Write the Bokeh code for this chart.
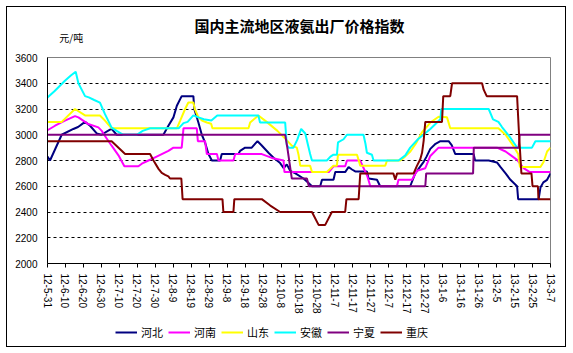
from bokeh.plotting import figure
from bokeh.layouts import column
from bokeh.models import FixedTicker, Range1d, Legend, LegendItem, Label
from bokeh.embed import file_html
from bokeh.resources import INLINE

title_text = "国内主流地区液氨出厂价格指数"
unit_text = "元/吨"

x_tick_days = list(range(0, 281, 10))
x_tick_labels = ["12-5-31", "12-6-10", "12-6-20", "12-6-30", "12-7-10", "12-7-20", "12-7-30",
                 "12-8-9", "12-8-19", "12-8-29", "12-9-8", "12-9-18", "12-9-28", "12-10-8",
                 "12-10-18", "12-10-28", "12-11-7", "12-11-17", "12-11-27", "12-12-7",
                 "12-12-17", "12-12-27", "13-1-6", "13-1-16", "13-1-26", "13-2-5", "13-2-15",
                 "13-2-25", "13-3-7"]
y_ticks = [2000, 2200, 2400, 2600, 2800, 3000, 3200, 3400, 3600]

series_names = ["河北", "河南", "山东", "安徽", "宁夏", "重庆"]
series_colors = ["#000080", "#FF00FF", "#FFFF00", "#00FFFF", "#800080", "#800000"]

# days since 2012-05-31
hebei_days = [0, 1.4, 7.9, 14.4, 17, 20.9, 23.7, 27.4, 30, 34.8, 35.7, 38.5, 64.5, 67.3, 70.1, 72, 74.7,
              81.2, 81.7, 84, 85.9, 87.7, 89.6, 91.5, 96.1, 97, 106.3, 107.2, 110, 113.7, 116.9, 119,
              123, 126, 129.5, 131.5, 133.2, 135.1, 138, 142.5, 145, 147.2, 151.8, 152.8, 159.2, 160.2,
              165.7, 167.6, 169.5, 171.3, 177.8, 178.7, 183.4, 185.2, 201.9, 204.7, 209.4, 211, 213.1,
              216, 218.7, 223.3, 225, 227, 237.2, 238, 245.6, 250.2, 252.1, 255, 257.7, 261.4, 262,
              273.4, 274.4, 276, 278.1, 280]
hebei_vals = [2830, 2800, 3000, 3045, 3060, 3100, 3070, 3010, 3000, 3040, 3045, 3000, 3000, 3070, 3135, 3225, 3300,
              3300, 3200, 3095, 3000, 2940, 2850, 2800, 2800, 2850, 2850, 2875, 2900, 2900, 2950, 2920,
              2860, 2820, 2780, 2740, 2770, 2720, 2700, 2660, 2630, 2600, 2600, 2650, 2650, 2710,
              2710, 2750, 2730, 2715, 2715, 2660, 2650, 2600, 2600, 2700, 2790, 2830, 2890,
              2930, 2950, 2950, 2920, 2850, 2850, 2800, 2800, 2785, 2750, 2700, 2650, 2600, 2500,
              2500, 2590, 2630, 2650, 2700]

henan_days = [0, 4.2, 9.7, 15.3, 17.2, 22.7, 28.3, 30.2, 32, 35.7, 39.5, 42.8, 50.6, 52.5, 56.2, 59.9,
              63.6, 67.3, 70.1, 74.7, 75.7, 83.1, 83.7, 87.7, 88.7, 94.3, 95.2, 103.5, 104.5, 119.3,
              124.9, 131.4, 131.9, 146.2, 156.6, 159.2, 165.7, 166.7, 174, 176, 178, 179.7, 194.5,
              195.4, 202.9, 205.7, 210.3, 213.1, 217.7, 250.2, 255, 261.4, 265, 268.5, 280]
henan_vals = [3035, 3070, 3110, 3145, 3135, 3083, 3057, 3030, 2990, 2915, 2840, 2755, 2755, 2775, 2800, 2825,
              2850, 2875, 2900, 2900, 3050, 3050, 2950, 2950, 2850, 2850, 2800, 2800, 2850, 2850,
              2820, 2800, 2710, 2710, 2710, 2755, 2755, 2800, 2800, 2740, 2680, 2600, 2600,
              2650, 2650, 2720, 2740, 2835, 2900, 2900, 2870, 2805, 2740, 2710, 2710]

shandong_days = [0, 7.9, 15.3, 20.9, 29.2, 32, 35.7, 72, 73.8, 76.6, 78.4, 81.2, 82, 84, 86, 88.7, 91.1,
                 91.8, 111.9, 112.8, 117.4, 122, 128, 133, 136, 138.8, 139.8, 140.7, 146.2, 147.2,
                 155.5, 159.2, 161.1, 161.7, 172.3, 174.1, 188, 189, 196.4, 199, 202, 205, 208.5, 211,
                 213.1, 217.7, 222.4, 224.2, 251, 255, 259, 262, 263, 274.4, 276.2, 278.1, 280]
shandong_vals = [3100, 3100, 3200, 3150, 3150, 3110, 3050, 3050, 3108, 3200, 3250, 3250, 3200, 3135, 3110, 3095, 3085,
                 3050, 3050, 3095, 3150, 3100, 3030, 2960, 2915, 2900, 2840, 2760, 2760, 2710,
                 2710, 2760, 2760, 2845, 2845, 2760, 2760, 2800, 2800, 2830, 2870, 2930, 3020, 3060,
                 3095, 3140, 3135, 3050, 3050, 3000, 2920, 2850, 2750, 2750, 2790, 2870, 2900]

anhui_days = [0, 4, 9.7, 13, 15.7, 17.2, 20.9, 23, 26, 29.2, 32, 35.7, 38.5, 42.2, 49.7, 53, 57.1, 73,
              75.7, 78, 81.2, 84, 87, 91.2, 94.5, 117.4, 118.3, 132.3, 133.2, 134.2, 136.9, 139, 141.2,
              143.5, 145, 146.2, 147.2, 155.5, 157.5, 159.2, 161.1, 161.7, 164.8, 166.7, 175.9, 177,
              177.8, 180.6, 181.5, 195.4, 199.2, 201.9, 206.2, 213.1, 218.7, 219.2, 245.6, 248, 251,
              253, 257, 261.4, 269.7, 271.6, 280]
anhui_vals = [3290, 3340, 3420, 3460, 3490, 3400, 3300, 3290, 3270, 3250, 3160, 3055, 3030, 3000, 3000, 3030, 3050, 3050,
              3090, 3100, 3150, 3135, 3120, 3110, 3150, 3150, 3095, 3095, 2920, 2900, 2900, 2960, 3045,
              3010, 2920, 2850, 2800, 2800, 2830, 2845, 2845, 2940, 2965, 3000, 3000, 2930,
              2860, 2845, 2800, 2800, 2840, 2900, 2965, 3045, 3120, 3200, 3200, 3120, 3100,
              3060, 2990, 2900, 2900, 2950, 2950]

ningxia_days = [0, 132.3, 133.5, 136, 144.4, 145.5, 210.3, 210.8, 236.9, 237.3, 262.3, 262.8, 280]
ningxia_vals = [3000, 3000, 2900, 2660, 2660, 2600, 2600, 2700, 2700, 2900, 2900, 3000, 3000]

chongqing_days = [0, 35.7, 43.2, 57.1, 59, 61.8, 63.6, 65.5, 67.3, 68.2, 74.5, 75.2, 97.4, 97.9, 103.5,
                  104, 119.3, 124, 129.5, 147.2, 150.9, 154.6, 158.3, 165.7, 166.4, 173.2, 174.1,
                  192.5, 193.6, 194.6, 203.8, 205.7, 207.5, 208.5, 209.4, 210.3, 219.6, 220.3, 224.2,
                  225.2, 241.9, 242.8, 244.5, 261.4, 262.5, 263.8, 269.4, 270, 273, 273.3, 280]
chongqing_vals = [2950, 2950, 2850, 2850, 2800, 2735, 2703, 2688, 2677, 2660, 2660, 2500, 2500, 2400, 2400,
                  2500, 2500, 2450, 2400, 2400, 2300, 2300, 2400, 2400, 2500, 2500, 2700,
                  2700, 2650, 2700, 2700, 2760, 2810, 2860, 2955, 3100, 3100, 3300, 3300,
                  3400, 3400, 3350, 3300, 3300, 3000, 2700, 2700, 2600, 2600, 2500, 2500]

series_days = [hebei_days, henan_days, shandong_days, anhui_days, ningxia_days, chongqing_days]
series_vals = [hebei_vals, henan_vals, shandong_vals, anhui_vals, ningxia_vals, chongqing_vals]

CJK = "Noto Sans CJK SC"
NUM = "Liberation Sans"
W = 558  # inner width inside the chart-area border


def blank_panel(h, y0, y1):
    f = figure(width=W, height=h, output_backend="svg", toolbar_location=None,
               x_range=Range1d(0, W), y_range=Range1d(y0, y1),
               x_axis_type=None, y_axis_type=None, min_border=0)
    f.outline_line_color = None
    f.background_fill_color = "white"
    f.border_fill_color = "white"
    return f


# ---- top strip: title and unit
top = blank_panel(40, 40, 0)
top.add_layout(Label(x=279.5, y=18, text=title_text, text_align="center", text_baseline="middle",
                     text_font=CJK, text_font_size="15px", text_font_style="bold", text_color="black"))
top.add_layout(Label(x=13, y=30, text=unit_text, text_align="left", text_baseline="middle",
                     text_font=CJK, text_font_size="10px", text_color="black"))

# ---- main chart
p = figure(width=W, height=273, output_backend="svg", toolbar_location=None,
           x_range=Range1d(0, 280), y_range=Range1d(2000, 3600),
           min_border_left=40, min_border_right=15, min_border_top=10, min_border_bottom=57)
p.background_fill_color = "white"
p.border_fill_color = "white"
p.outline_line_color = "#808080"
p.outline_line_width = 1

p.xaxis.ticker = FixedTicker(ticks=x_tick_days)
p.xaxis.major_label_overrides = {d: lab for d, lab in zip(x_tick_days, x_tick_labels)}
p.xaxis.major_label_orientation = "vertical"
p.xaxis.major_tick_out = 4
p.xaxis.major_tick_in = 0
p.xaxis.minor_tick_line_color = None
p.xaxis.major_label_standoff = 6
p.xaxis.axis_line_color = "black"
p.xaxis.major_tick_line_color = "black"
p.xaxis.major_label_text_font = NUM
p.xaxis.major_label_text_font_size = "10px"
p.xaxis.major_label_text_color = "black"

p.yaxis.ticker = FixedTicker(ticks=y_ticks)
p.yaxis.major_tick_out = 0
p.yaxis.major_tick_in = 0
p.yaxis.minor_tick_line_color = None
p.yaxis.major_label_standoff = 10
p.yaxis.axis_line_color = "black"
p.yaxis.major_label_text_font = NUM
p.yaxis.major_label_text_font_size = "10px"
p.yaxis.major_label_text_color = "black"

p.xgrid.visible = False
p.ygrid.ticker = FixedTicker(ticks=y_ticks[1:-1])
p.ygrid.grid_line_color = "black"
p.ygrid.grid_line_dash = "3 3"
p.ygrid.grid_line_width = 1

for color, days, vals in zip(series_colors, series_days, series_vals):
    p.line(days, vals, line_color=color, line_width=2)

# ---- legend strip (its renderers hold no visible data; they only supply the key styles)
leg = blank_panel(26, 26, 0)
items = []
for name, color in zip(series_names, series_colors):
    r = leg.line(x=[-20, -10], y=[-20, -20], line_color=color, line_width=2)
    items.append(LegendItem(label=name, renderers=[r]))
legend = Legend(items=items, orientation="horizontal", location=(68, 6),
                glyph_width=22, glyph_height=12, label_standoff=4, spacing=5,
                padding=0, margin=0, border_line_color=None, background_fill_alpha=0,
                label_text_font=CJK, label_text_font_size="11px", label_text_color="black",
                label_height=14)
leg.add_layout(legend)

layout = column(top, p, leg, spacing=0, margin=(7, 7, 7, 7),
                styles={"outline": "1.5px solid black"})

open("out.html", "w").write(file_html(layout, INLINE))
